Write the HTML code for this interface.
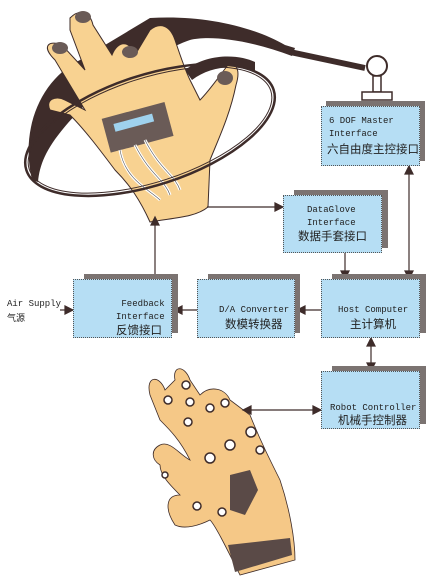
<!DOCTYPE html>
<html><head><meta charset="utf-8"><style>
body{margin:0;width:429px;height:584px;background:#fff;position:relative;overflow:hidden;font-family:"Liberation Mono","Noto Sans CJK SC",monospace;}
.sh{position:absolute;background:#7b7371;}
.bx{position:absolute;background:#b6def4;border:1px dotted #555;box-sizing:border-box;color:#222;font-size:9px;line-height:13px;}
.bx .t{position:absolute;white-space:nowrap;}
.cn{font-family:"Noto Sans CJK SC","WenQuanYi Zen Hei",sans-serif;font-size:11.5px;}
.lbl{position:absolute;font-size:9px;color:#222;line-height:13px;white-space:nowrap;}
svg{position:absolute;left:0;top:0;}
</style></head><body>
<svg width="429" height="584">
 <path d="M32,180 C20,130 40,80 80,60 L150,18 C200,15 250,25 285,45 L295,48 L292,56 C250,40 210,35 190,40 C160,50 120,80 85,105 C50,140 40,160 38,182 Z" fill="#3e2c2a"/>
 <path d="M185,70 C210,52 240,55 255,62 L255,72 C235,64 210,66 192,80 Z" fill="#3e2c2a"/>
 <path d="M290,52 L365,68" stroke="#3e2c2a" stroke-width="6"/>
 <path d="M70,18 C80,8 90,12 93,25 L112,55 C118,40 130,40 135,55 L150,30 C160,22 170,25 175,40 C180,55 185,70 190,80 L200,100 C210,90 220,75 228,65 C238,62 240,72 236,85 C230,115 218,140 210,160 L208,207 C195,218 170,218 150,222 C140,200 130,185 115,170 C100,150 85,130 70,115 L50,110 C45,100 55,95 65,100 L85,110 L55,60 C40,45 50,40 62,45 L85,70 L70,30 Z" fill="#f8d291" stroke="#3e2c2a" stroke-width="1"/>
 <g fill="#6a5b57"><ellipse cx="83" cy="17" rx="8" ry="6"/><ellipse cx="60" cy="48" rx="8" ry="6"/><ellipse cx="130" cy="52" rx="8" ry="6"/><ellipse cx="225" cy="78" rx="8" ry="7"/></g>
 <rect x="105" y="110" width="65" height="35" fill="#6a5b57" transform="rotate(-15 137 127)"/>
 <rect x="115" y="118" width="40" height="8" fill="#9fd2ee" transform="rotate(-15 137 127)"/>
 <path d="M120,150 C125,180 150,190 160,200 M135,145 C150,175 165,180 170,195 M145,140 C160,170 175,175 180,190" stroke="#fff" stroke-width="3" fill="none"/>
 <path d="M120,150 C125,180 150,190 160,200 M135,145 C150,175 165,180 170,195 M145,140 C160,170 175,175 180,190" stroke="#555" stroke-width="0.6" fill="none"/>
 <ellipse cx="150" cy="130" rx="130" ry="55" transform="rotate(-18 150 130)" fill="none" stroke="#3e2c2a" stroke-width="2.5"/>
 <ellipse cx="150" cy="130" rx="127" ry="52" transform="rotate(-18 150 130)" fill="none" stroke="#3e2c2a" stroke-width="1"/>
 <circle cx="377" cy="66" r="10" fill="#fff" stroke="#3e2c2a" stroke-width="2"/>
 <rect x="373" y="76" width="8" height="16" fill="#fff" stroke="#3e2c2a" stroke-width="1.5"/>
 <rect x="362" y="92" width="30" height="8" fill="#fff" stroke="#3e2c2a" stroke-width="1.5"/>
 <path d="M150,395 C145,375 160,375 165,390 L175,380 C172,365 185,365 190,380 L200,395 C210,385 225,388 230,400 L250,415 C260,440 270,460 280,480 C290,510 295,540 295,560 L240,575 C225,545 215,525 210,520 C200,525 185,530 175,525 C165,510 165,495 180,495 C170,485 160,475 160,465 C152,460 150,450 160,445 C170,440 180,455 190,460 C180,440 170,430 160,420 Z" fill="#f5c887" stroke="#3e2c2a" stroke-width="0.8"/>
 <g fill="#fff" stroke="#3e2c2a" stroke-width="1.5">
  <circle cx="186" cy="385" r="4"/><circle cx="168" cy="400" r="4"/><circle cx="190" cy="402" r="4"/><circle cx="225" cy="403" r="4"/><circle cx="210" cy="408" r="4"/>
  <circle cx="188" cy="422" r="4"/><circle cx="251" cy="432" r="5"/><circle cx="230" cy="445" r="5"/><circle cx="210" cy="458" r="5"/><circle cx="260" cy="450" r="4"/>
  <circle cx="197" cy="506" r="4"/><circle cx="222" cy="512" r="4"/><circle cx="165" cy="475" r="3"/>
 </g>
 <path d="M230,475 L250,470 L258,490 L245,515 L230,510 Z" fill="#5a4a47"/>
 <path d="M228,545 L290,538 L292,555 L235,572 Z" fill="#5a4a47"/>
 <g stroke="#3e2c2a" stroke-width="1.2" fill="#3e2c2a">
  <line x1="207" y1="207" x2="278" y2="207"/><path d="M283,207 L275,203 L275,211 Z"/>
  <line x1="155" y1="279" x2="155" y2="223"/><path d="M155,217 L151,225 L159,225 Z"/>
  <line x1="345" y1="253" x2="345" y2="274"/><path d="M345,279 L341,271 L349,271 Z"/>
  <line x1="409" y1="172" x2="409" y2="273"/><path d="M409,166 L405,174 L413,174 Z"/><path d="M409,279 L405,271 L413,271 Z"/>
  <line x1="321" y1="310" x2="302" y2="310"/><path d="M297,310 L305,306 L305,314 Z"/>
  <line x1="197" y1="310" x2="180" y2="310"/><path d="M174,310 L182,306 L182,314 Z"/>
  <line x1="60" y1="310" x2="68" y2="310"/><path d="M73,310 L65,306 L65,314 Z"/>
  <line x1="371" y1="344" x2="371" y2="365"/><path d="M371,338 L367,346 L375,346 Z"/><path d="M371,371 L367,363 L375,363 Z"/>
  <line x1="249" y1="410" x2="315" y2="410"/><path d="M243,410 L251,406 L251,414 Z"/><path d="M321,410 L313,406 L313,414 Z"/>
 </g>
</svg>

<div class="sh" style="left:326px;top:101px;width:99px;height:60px"></div>
<div class="bx" style="left:321px;top:106px;width:99px;height:60px"><span class="t" style="left:7px;top:8px">6 DOF Master<br>Interface</span><span class="t cn" style="left:5px;top:36px">六自由度主控接口</span></div>

<div class="sh" style="left:294px;top:190px;width:94px;height:58px"></div>
<div class="bx" style="left:283px;top:195px;width:99px;height:58px"><span class="t" style="left:23px;top:8px">DataGlove<br>Interface</span><span class="t cn" style="left:14px;top:34px">数据手套接口</span></div>

<div class="sh" style="left:84px;top:274px;width:94px;height:59px"></div>
<div class="bx" style="left:73px;top:279px;width:99px;height:59px"><span class="t" style="left:42px;top:18px">&nbsp;Feedback<br>Interface</span><span class="t cn" style="left:42px;top:44px">反馈接口</span></div>

<div class="sh" style="left:208px;top:274px;width:92px;height:59px"></div>
<div class="bx" style="left:197px;top:279px;width:98px;height:59px"><span class="t" style="left:21px;top:24px">D/A Converter</span><span class="t cn" style="left:27px;top:38px">数模转换器</span></div>

<div class="sh" style="left:332px;top:274px;width:94px;height:59px"></div>
<div class="bx" style="left:321px;top:279px;width:99px;height:59px"><span class="t" style="left:16px;top:24px">Host Computer</span><span class="t cn" style="left:28px;top:38px">主计算机</span></div>

<div class="sh" style="left:332px;top:366px;width:94px;height:58px"></div>
<div class="bx" style="left:321px;top:371px;width:99px;height:58px"><span class="t" style="left:8px;top:30px">Robot Controller</span><span class="t cn" style="left:16px;top:42px">机械手控制器</span></div>

<div class="lbl" style="left:7px;top:298px">Air Supply</div>
<div class="lbl cn" style="left:7px;top:311px">气源</div>
</body></html>
